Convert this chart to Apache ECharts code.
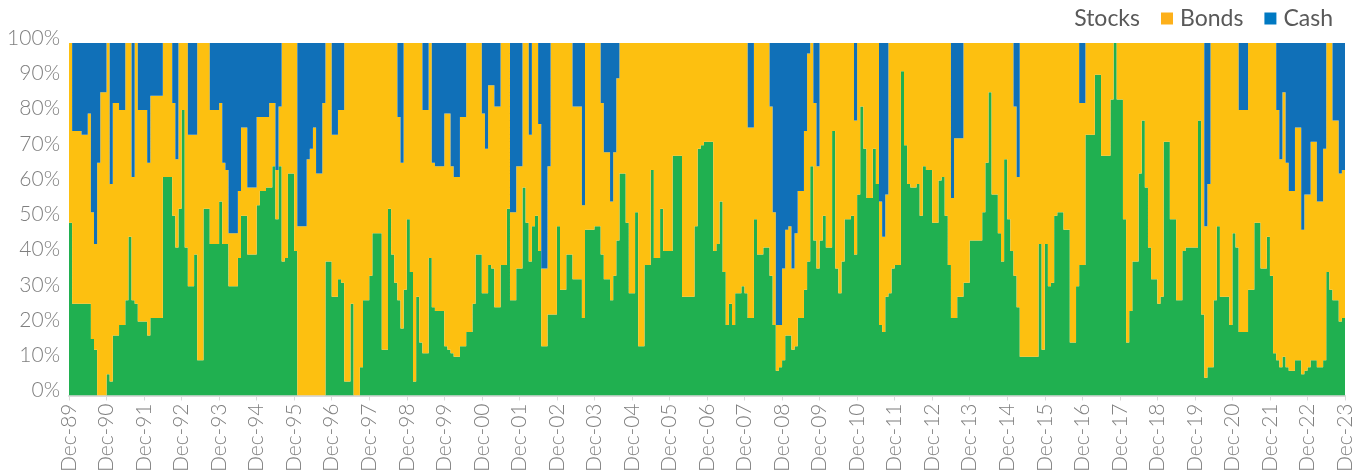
<!DOCTYPE html>
<html><head><meta charset="utf-8">
<style>html,body{margin:0;padding:0;background:#fff}#c{width:1359px;height:475px}</style>
<script src="https://cdn.jsdelivr.net/npm/echarts@6/dist/echarts.min.js"></script>
</head><body><div id="c"></div>
<script>
const tickLabels = ['Dec-89','Dec-90','Dec-91','Dec-92','Dec-93','Dec-94','Dec-95','Dec-96','Dec-97','Dec-98','Dec-99','Dec-00','Dec-01','Dec-02','Dec-03','Dec-04','Dec-05','Dec-06','Dec-07','Dec-08','Dec-09','Dec-10','Dec-11','Dec-12','Dec-13','Dec-14','Dec-15','Dec-16','Dec-17','Dec-18','Dec-19','Dec-20','Dec-21','Dec-22','Dec-23'];
const stocks = [
49,26,26,26,26,26,26,16,13,0,0,0,
6,4,17,17,20,20,27,45,27,26,21,21,
21,17,22,22,22,22,62,62,62,51,42,53,
81,42,31,31,40,10,10,53,53,43,43,43,
55,43,43,31,31,31,39,51,51,40,40,40,
54,58,58,59,59,65,50,65,38,39,63,63,
41,0,0,0,0,0,0,0,0,0,38,38,
28,28,33,32,4,4,26,0,0,8,27,27,
34,46,46,46,13,13,53,40,32,27,19,30,
50,35,4,28,15,12,12,39,25,24,24,24,
14,13,12,11,11,14,14,18,18,26,40,40,
29,29,37,36,25,25,37,37,53,27,27,36,
36,59,49,38,48,51,41,14,14,23,23,23,
48,30,30,40,40,33,33,33,22,47,47,47,
48,48,40,33,33,27,34,44,63,63,49,29,
29,52,14,14,37,37,64,39,39,53,41,41,
41,68,68,68,28,28,28,28,48,70,71,72,
72,72,41,43,55,35,20,26,20,29,29,31,
29,22,22,50,40,40,42,42,34,20,7,8,
10,17,17,13,14,22,22,30,38,65,44,36,
44,51,42,42,75,36,29,38,50,50,51,40,
57,82,70,56,56,70,60,20,18,28,29,36,
37,37,92,71,60,59,59,60,51,65,64,64,
49,49,61,62,51,37,22,22,28,28,32,32,
44,44,44,44,52,66,86,57,57,46,38,67,
50,41,34,25,11,11,11,11,11,11,43,13,
43,31,32,51,52,52,47,47,15,15,31,37,
37,74,74,74,91,91,68,68,68,84,100,84,
84,50,15,24,38,38,63,78,59,42,33,33,
26,28,72,72,50,50,27,27,41,42,42,42,
42,78,23,5,8,8,27,48,28,28,28,20,
46,42,18,18,18,30,30,49,49,36,36,45,
34,12,10,8,11,8,7,7,10,10,6,7,
8,10,10,8,8,10,35,30,27,27,21,22,
22];
const bonds = [
51,49,49,49,48,48,54,36,30,66,86,86,
94,56,66,66,61,61,73,55,35,74,60,60,
60,49,63,63,63,63,38,38,38,32,25,47,
19,58,43,43,34,90,90,47,47,38,38,38,
28,23,21,15,15,15,19,25,25,19,19,19,
25,21,21,20,24,18,14,17,62,61,37,37,
59,48,48,48,67,70,76,63,63,83,62,62,
46,46,48,49,96,96,74,100,100,92,73,73,
66,54,54,54,87,87,47,60,68,52,47,70,
50,65,96,72,85,69,69,61,41,41,41,41,
66,67,53,51,51,65,65,82,82,74,60,60,
51,41,51,52,57,57,63,63,47,25,25,29,
29,41,51,36,52,49,36,22,22,42,77,77,
52,70,70,60,60,49,49,49,32,53,53,53,
52,52,43,36,36,28,35,46,37,37,51,71,
71,48,86,86,63,63,36,61,61,47,59,59,
59,32,32,32,72,72,72,72,52,30,29,28,
28,28,59,57,45,65,80,74,80,71,71,69,
71,54,54,50,60,60,58,58,48,32,13,12,
26,30,31,23,32,36,36,45,59,35,39,29,
56,49,58,58,25,64,71,62,50,50,49,38,
43,18,30,44,44,30,40,35,27,29,71,64,
63,63,8,29,40,41,41,40,49,35,36,36,
51,51,39,38,49,63,34,51,45,45,68,68,
56,56,56,56,48,34,14,43,43,54,62,33,
50,59,48,37,89,89,89,89,89,89,57,87,
57,69,68,49,48,48,53,53,85,85,69,46,
46,26,26,26,9,9,32,32,32,16,0,16,
16,50,85,76,62,62,37,22,41,58,67,67,
74,72,28,28,50,50,73,73,59,58,58,58,
58,22,77,43,52,92,73,52,72,72,72,80,
54,58,63,63,63,70,70,51,51,64,64,55,
66,88,71,59,75,58,51,51,66,66,41,50,
49,62,62,47,47,60,65,70,51,51,42,42,
42];
const cash = [
0,25,25,25,26,26,20,48,57,34,14,14,
0,40,17,17,19,19,0,0,38,0,19,19,
19,34,15,15,15,15,0,0,0,17,33,0,
0,0,26,26,26,0,0,0,0,19,19,19,
17,34,36,54,54,54,42,24,24,41,41,41,
21,21,21,21,17,17,36,18,0,0,0,0,
0,52,52,52,33,30,24,37,37,17,0,0,
26,26,19,19,0,0,0,0,0,0,0,0,
0,0,0,0,0,0,0,0,0,21,34,0,
0,0,0,0,0,19,19,0,34,35,35,35,
20,20,35,38,38,21,21,0,0,0,0,0,
20,30,12,12,18,18,0,0,0,48,48,35,
35,0,0,26,0,0,23,64,64,35,0,0,
0,0,0,0,0,18,18,18,46,0,0,0,
0,0,17,31,31,45,31,10,0,0,0,0,
0,0,0,0,0,0,0,0,0,0,0,0,
0,0,0,0,0,0,0,0,0,0,0,0,
0,0,0,0,0,0,0,0,0,0,0,0,
0,24,24,0,0,0,0,0,18,48,80,80,
64,53,52,64,54,42,42,25,3,0,17,35,
0,0,0,0,0,0,0,0,0,0,0,22,
0,0,0,0,0,0,0,45,55,43,0,0,
0,0,0,0,0,0,0,0,0,0,0,0,
0,0,0,0,0,0,44,27,27,27,0,0,
0,0,0,0,0,0,0,0,0,0,0,0,
0,0,18,38,0,0,0,0,0,0,0,0,
0,0,0,0,0,0,0,0,0,0,0,17,
17,0,0,0,0,0,0,0,0,0,0,0,
0,0,0,0,0,0,0,0,0,0,0,0,
0,0,0,0,0,0,0,0,0,0,0,0,
0,0,0,52,40,0,0,0,0,0,0,0,
0,0,19,19,19,0,0,0,0,0,0,0,
0,0,19,33,14,34,42,42,24,24,53,43,
43,28,28,45,45,30,0,0,22,22,37,36,
36];
const categories = stocks.map((_, i) => i % 12 === 0 ? tickLabels[i / 12] : '');

const fontFamily = 'Lato, "Noto Sans", sans-serif';
const areaSeries = (name, data, color) => ({
  name, type: 'line', stack: 'mix', step: 'end', data,
  symbol: 'none', showSymbol: false, sampling: false,
  lineStyle: { width: 0, color }, itemStyle: { color },
  areaStyle: { color, opacity: 1 }, emphasis: { disabled: true }
});
const chart = echarts.init(document.getElementById('c'), null, { renderer: 'canvas' });
chart.setOption({
  animation: false,
  textStyle: { fontFamily },
  grid: { left: 69, right: 14, top: 43, bottom: 79, containLabel: false },
  legend: {
    right: 21, top: 2, itemWidth: 12, itemHeight: 12, itemGap: 21, icon: 'rect',
    textStyle: { fontFamily, fontSize: 23, color: '#595959', padding: [0, 0, 0, 2] },
    data: [
      { name: 'Stocks', itemStyle: { color: 'rgba(0,0,0,0)' } },
      { name: 'Bonds', itemStyle: { color: '#fdb01a' } },
      { name: 'Cash', itemStyle: { color: '#0079c2' } }
    ]
  },
  xAxis: {
    type: 'category', boundaryGap: false, data: categories,
    axisLine: { lineStyle: { color: '#d9d9d9', width: 2 } },
    axisTick: { interval: 11, length: 5, lineStyle: { color: '#d9d9d9', width: 1 } },
    axisLabel: { interval: 11, rotate: 90, margin: 8, fontFamily, fontWeight: 300, fontSize: 21, color: '#7f7f7f', hideOverlap: false }
  },
  yAxis: {
    type: 'value', min: 0, max: 100, interval: 10,
    axisLine: { show: false }, axisTick: { show: false }, splitLine: { show: false },
    axisLabel: { formatter: '{value}%', margin: 9, fontFamily, fontWeight: 300, fontSize: 21, color: '#7f7f7f', verticalAlign: 'bottom', lineHeight: 10 }
  },
  series: [
    areaSeries('Stocks', stocks, '#20b050'),
    areaSeries('Bonds', bonds, '#fdc010'),
    areaSeries('Cash', cash, '#1070b8')
  ]
});
</script></body></html>
